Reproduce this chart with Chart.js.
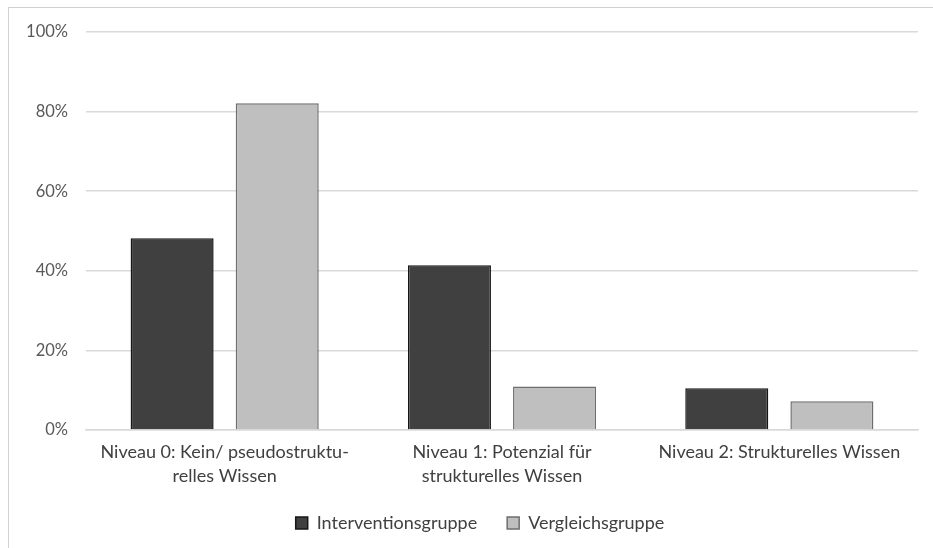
<!DOCTYPE html>
<html>
<head>
<meta charset="utf-8">
<script src="https://cdn.jsdelivr.net/npm/chart.js@4/dist/chart.umd.min.js"></script>
<style>
  html, body { margin: 0; padding: 0; background: #fff; }
  #wrap { position: absolute; left: 0; top: 0; width: 933px; height: 548px; }
  #frame { position: absolute; left: 8px; top: 7px; width: 940px; height: 560px; border-left: 1px solid #d0d0d0; border-top: 1px solid #d0d0d0; }
</style>
</head>
<body>
<div id="wrap">
  <div id="frame"></div>
  <canvas id="c" width="933" height="548"></canvas>
</div>
<script>
const categories = [
  ["Niveau 0: Kein/ pseudostruktu-", "relles Wissen"],
  ["Niveau 1: Potenzial für", "strukturelles Wissen"],
  ["Niveau 2: Strukturelles Wissen"]
];
const seriesNames = ["Interventionsgruppe", "Vergleichsgruppe"];
const interventionsgruppe = [48.2, 41.4, 10.5];
const vergleichsgruppe = [82.1, 10.9, 7.2];
const yTicks = [0, 20, 40, 60, 80, 100];

const FONT = "Lato, 'Liberation Sans', sans-serif";

const legendShift = {
  id: 'legendShift',
  afterLayout(chart) {
    if (chart.legend) { chart.legend.left += 21; chart.legend.right += 21; }
  }
};

new Chart(document.getElementById('c'), {
  type: 'bar',
  data: {
    labels: categories,
    datasets: [
      { label: seriesNames[0], data: interventionsgruppe, backgroundColor: '#404040', borderColor: '#161616', borderWidth: 1.5 },
      { label: seriesNames[1], data: vergleichsgruppe, backgroundColor: '#bfbfbf', borderColor: '#6e6e6e', borderWidth: 1.5 }
    ]
  },
  plugins: [legendShift],
  options: {
    responsive: false,
    animation: false,
    devicePixelRatio: 1,
    layout: { padding: { top: 32, right: 15, left: 0, bottom: 6 } },
    datasets: { bar: { categoryPercentage: 0.758, barPercentage: 0.79 } },
    plugins: {
      tooltip: { enabled: false },
      legend: {
        position: 'bottom',
        labels: {
          font: { family: FONT, size: 18 },
          color: '#404040',
          boxWidth: 12,
          boxHeight: 12,
          padding: 30,
          useBorderRadius: false
        }
      }
    },
    scales: {
      x: {
        grid: { display: false, drawTicks: false },
        border: { display: true, color: '#d9d9d9', width: 1.5 },
        ticks: {
          font: { family: FONT, size: 18, lineHeight: 1.35 },
          color: '#404040',
          maxRotation: 0,
          autoSkip: false,
          padding: 10
        },
        afterFit: (s) => { s.height = 54; }
      },
      y: {
        min: 0, max: 100,
        afterBuildTicks: (s) => { s.ticks = yTicks.map(v => ({ value: v })); },
        grid: { color: '#d9d9d9', lineWidth: 1.5, drawTicks: false },
        border: { display: false },
        ticks: {
          font: { family: FONT, size: 16.5 },
          color: '#595959',
          padding: 18,
          callback: (v) => v + '%'
        },
        afterFit: (s) => { s.width = 86; }
      }
    }
  }
});
</script>
</body>
</html>
